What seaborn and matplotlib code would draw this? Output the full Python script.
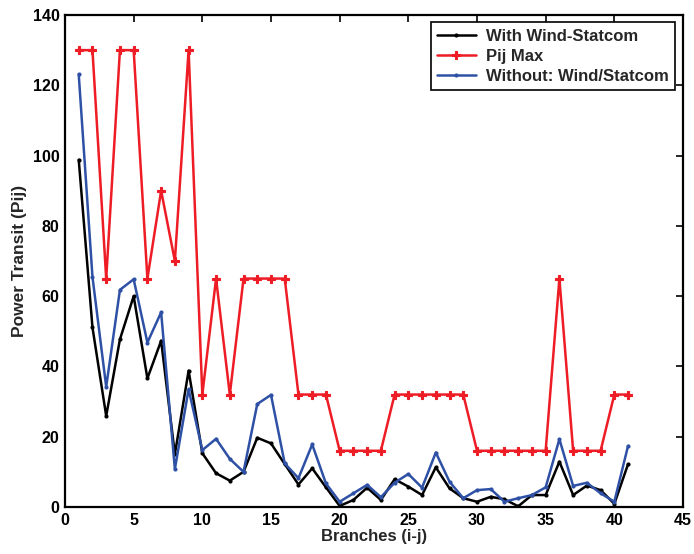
import matplotlib
matplotlib.use("Agg")
import matplotlib.pyplot as plt
import seaborn as sns
import numpy as np
import pandas as pd

branches = list(range(1, 42))
with_wind_statcom = [98.8, 51.1, 25.9, 47.7, 60.0, 36.6, 47.3, 15.0, 38.8, 15.3,
                     9.6, 7.5, 10.0, 19.7, 18.1, 12.2, 6.4, 11.0, 5.6, 0.3,
                     2.0, 5.5, 2.0, 7.9, 5.8, 3.4, 11.3, 5.3, 2.5, 1.5,
                     2.9, 2.2, 0.2, 3.4, 3.4, 12.9, 3.4, 6.1, 4.8, 0.9, 12.2]
pij_max = [130, 130, 65, 130, 130, 65, 90, 70, 130, 32,
           65, 32, 65, 65, 65, 65, 32, 32, 32, 16,
           16, 16, 16, 32, 32, 32, 32, 32, 32, 16,
           16, 16, 16, 16, 16, 65, 16, 16, 16, 32, 32]
without_wind_statcom = [123.1, 65.5, 34.2, 61.8, 64.8, 46.8, 55.4, 10.8, 33.5, 16.2,
                        19.4, 13.7, 10.0, 29.3, 31.9, 12.4, 8.2, 17.8, 6.7, 1.5,
                        3.9, 6.3, 2.8, 6.9, 9.4, 5.5, 15.5, 7.2, 2.5, 4.8,
                        5.1, 1.5, 2.5, 3.4, 5.6, 19.3, 6.0, 6.9, 3.9, 1.5, 17.4]
labels = ["With Wind-Statcom", "Pij Max", "Without: Wind/Statcom"]
xticks = [0, 5, 10, 15, 20, 25, 30, 35, 40, 45]
yticks = [0, 20, 40, 60, 80, 100, 120, 140]

sns.set_style("white")
plt.rcParams['font.family'] = ['Liberation Sans', 'DejaVu Sans']
plt.rcParams['font.weight'] = 'bold'

fig = plt.figure(figsize=(6.94, 5.54), dpi=100)
ax = fig.add_axes([65/694, 1-507/554, (683-65)/694, (507-15)/554])

red = "#EE1C25"
sns.lineplot(x=branches, y=with_wind_statcom, ax=ax, color="black", lw=1.8,
             marker="o", markersize=3, markeredgewidth=0, label=labels[0])
sns.lineplot(x=branches, y=pij_max, ax=ax, color=red, lw=1.8,
             marker="P", markersize=5.5, markeredgewidth=0.8,
             markeredgecolor=red, markerfacecolor=red, label=labels[1])
sns.lineplot(x=branches, y=without_wind_statcom, ax=ax, color="#2E51A6", lw=1.8,
             marker="o", markersize=3, markeredgewidth=0, label=labels[2])

ax.set_xlim(0, 45)
ax.set_ylim(0, 140)
ax.set_xticks(xticks)
ax.set_yticks(yticks)
ax.tick_params(direction="in", top=True, right=True, length=5, width=1.2,
               labelsize=11.5, colors="black", pad=4)
for lab in ax.get_xticklabels() + ax.get_yticklabels():
    lab.set_fontweight("bold")
for s in ax.spines.values():
    s.set_linewidth(1.6)
    s.set_color("black")
ax.set_xlabel("Branches (i-j)", fontsize=12, fontweight="bold", labelpad=1)
ax.set_ylabel("Power Transit (Pij)", fontsize=12.5, fontweight="bold", labelpad=4)

leg = ax.legend(loc="upper right", bbox_to_anchor=(0.987, 0.986), fontsize=12,
                frameon=True, fancybox=False, edgecolor="black", framealpha=1,
                borderpad=0.4, handlelength=2.3, labelspacing=0.3, handletextpad=0.6,
                borderaxespad=0)
leg.get_frame().set_linewidth(1.2)
for t in leg.get_texts():
    t.set_fontweight("bold")

fig.savefig("out.png", dpi=100)
